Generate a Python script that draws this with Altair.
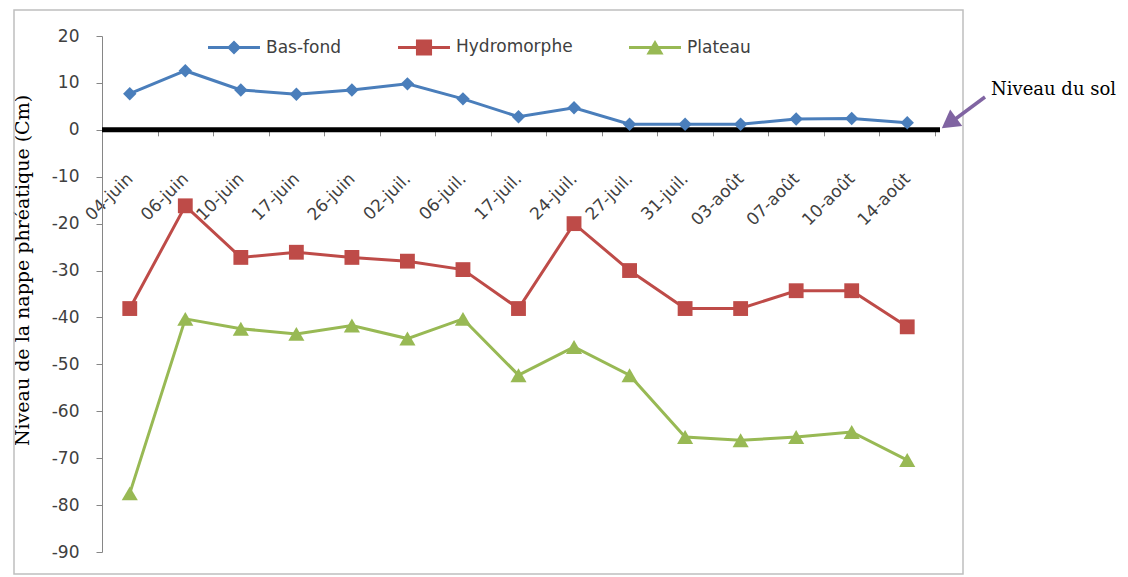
import altair as alt
import pandas as pd

# ---- data ----
dates = ["04-juin", "06-juin", "10-juin", "17-juin", "26-juin", "02-juil.", "06-juil.",
         "17-juil.", "24-juil.", "27-juil.", "31-juil.", "03-août", "07-août", "10-août", "14-août"]
bas_fond = [7.7, 12.6, 8.5, 7.6, 8.5, 9.8, 6.6, 2.8, 4.7, 1.2, 1.2, 1.2, 2.3, 2.4, 1.5]
hydromorphe = [-38.1, -16.2, -27.2, -26.1, -27.2, -28.0, -29.8, -38.1, -20.0, -30.0,
               -38.1, -38.1, -34.3, -34.3, -42.0]
plateau = [-77.5, -40.3, -42.4, -43.5, -41.7, -44.5, -40.3, -52.3, -46.3, -52.3,
           -65.5, -66.2, -65.5, -64.4, -70.4]
series = ["Bas-fond", "Hydromorphe", "Plateau"]
colors = ["#4A7EBB", "#BE4B48", "#98B954"]
shapes = ["diamond", "square", "triangle-up"]
marker_sizes = [180, 260, 300]
y_ticks = [-90, -80, -70, -60, -50, -40, -30, -20, -10, 0, 10, 20]
y_title = "Niveau de la nappe phréatique (Cm)"
annotation = "Niveau du sol"

rows = []
for s, vals in zip(series, [bas_fond, hydromorphe, plateau]):
    for d, v in zip(dates, vals):
        rows.append({"date": d, "serie": s, "value": v})
df = pd.DataFrame(rows)
deco = pd.DataFrame({"k": [0]})

W, H = 833, 516
y_min, y_max = -90, 20
zero_px = H * y_max / (y_max - y_min)

x_scale = alt.Scale(type="band", domain=dates, paddingInner=0, paddingOuter=0)
y_scale = alt.Scale(domain=[y_min, y_max], nice=False, zero=False)
color_scale = alt.Scale(domain=series, range=colors)

x_axis = alt.Axis(title=None, offset=-(H - zero_px), domain=False, ticks=True,
                  tickBand="extent", tickSize=6, tickColor="#868686", tickWidth=1,
                  labelAngle=-45, labelAlign="right", labelBaseline="middle",
                  labelPadding=40, labelFont="DejaVu Sans", labelFontSize=17,
                  labelColor="#404040", labelOverlap=False, grid=False)
y_axis = alt.Axis(values=y_ticks, title=y_title, titleFont="DejaVu Serif",
                  titleFontSize=19, titleFontWeight="normal", titleColor="#000000",
                  titleX=-80, titleY=234, titleAngle=270, titleAlign="center",
                  titleBaseline="middle", labelExpr="'' + datum.value",
                  labelFont="DejaVu Sans", labelFontSize=17, labelColor="#404040",
                  labelPadding=17, tickSize=6, tickColor="#868686",
                  domainColor="#868686", grid=False)

x_enc = alt.X("date:N", sort=dates, scale=x_scale, bandPosition=0.5, axis=x_axis)
y_enc = alt.Y("value:Q", scale=y_scale, axis=y_axis)

# legend symbols: a line with the series marker on it (paths in the [-1,1] box)
line_p = "M-1,-0.058L1,-0.058L1,0.058L-1,0.058Z"
leg_paths = [
    line_p + "M0,-0.27L0.27,0L0,0.27L-0.27,0Z",
    line_p + "M-0.31,-0.31L0.31,-0.31L0.31,0.31L-0.31,0.31Z",
    line_p + "M0,-0.29L0.33,0.27L-0.33,0.27Z",
]

legend = alt.Legend(title=None, orient="none", direction="horizontal",
                    legendX=106, legendY=-15, symbolSize=2700, symbolStrokeWidth=0,
                    labelFont="DejaVu Sans", labelFontSize=17, labelColor="#404040",
                    labelOffset=6, columnPadding=56, padding=0, symbolOpacity=1)

lines = alt.Chart(df).mark_line(strokeWidth=3).encode(
    x=x_enc, y=y_enc,
    color=alt.Color("serie:N", scale=color_scale, legend=None),
    detail="serie:N",
)
points = alt.Chart(df).mark_point(filled=True, opacity=1).encode(
    x=x_enc, y=y_enc,
    color=alt.Color("serie:N", scale=color_scale, legend=None),
    shape=alt.Shape("serie:N", scale=alt.Scale(domain=series, range=shapes), legend=None),
    size=alt.Size("serie:N", scale=alt.Scale(domain=series, range=marker_sizes), legend=None),
)
# invisible layer that only provides the legend (line + marker symbols)
legend_layer = alt.Chart(df).mark_point(filled=True, opacity=0).encode(
    x=x_enc, y=y_enc,
    color=alt.Color("serie:N", scale=color_scale, legend=legend),
    shape=alt.Shape("serie:N", scale=alt.Scale(domain=series, range=leg_paths), legend=legend),
)

zero_line = alt.Chart(deco).mark_rule(color="black", strokeWidth=5).encode(
    y=alt.datum(0), x=alt.value(0), x2=alt.value(838)
)
frame = alt.Chart(deco).mark_rect(fillOpacity=0, stroke="#BFBFBF", strokeWidth=1.5).encode(
    x=alt.value(-88), x2=alt.value(861), y=alt.value(-26), y2=alt.value(538)
)
arrow_shaft = alt.Chart(deco).mark_rule(color="#8064A2", strokeWidth=3.5).encode(
    x=alt.value(883), y=alt.value(61), x2=alt.value(852), y2=alt.value(84)
)
arrow_head = alt.Chart(deco).mark_point(shape="triangle-up", filled=True, opacity=1,
                                        size=420, angle=234, color="#8064A2").encode(
    x=alt.value(847), y=alt.value(87)
)
note = alt.Chart(deco).mark_text(text=annotation, align="left", baseline="middle",
                                 font="DejaVu Serif", fontSize=18, color="black").encode(
    x=alt.value(889), y=alt.value(54)
)

chart = alt.layer(frame, zero_line, lines, points, legend_layer, arrow_shaft, arrow_head, note
).resolve_scale(shape="independent", size="independent", color="independent").properties(
    width=W, height=H,
    autosize=alt.AutoSizeParams(type="none"),
    padding={"left": 94, "top": 28, "right": 185, "bottom": 25},
    background="white",
).configure_view(stroke=None)

chart.save("out.html", embed_options={"renderer": "svg", "actions": False})
